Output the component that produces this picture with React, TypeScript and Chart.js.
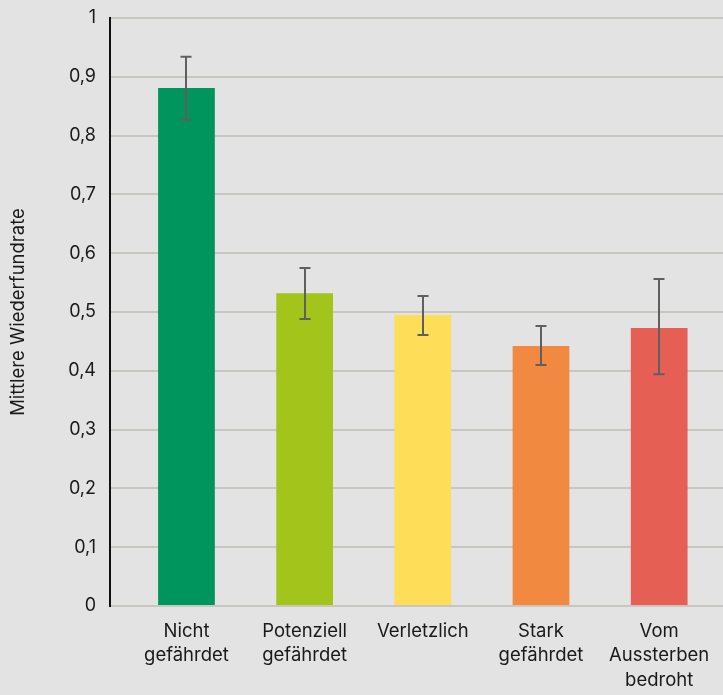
import React, { useEffect, useRef } from "react";
import { Chart, registerables } from "chart.js";

Chart.register(...registerables);

const categories: string[][] = [
  ["Nicht", "gefährdet"],
  ["Potenziell", "gefährdet"],
  ["Verletzlich"],
  ["Stark", "gefährdet"],
  ["Vom", "Aussterben", "bedroht"],
];
const means: number[] = [0.881, 0.532, 0.495, 0.442, 0.473];
const errLow: number[] = [0.827, 0.488, 0.461, 0.41, 0.394];
const errHigh: number[] = [0.934, 0.575, 0.527, 0.476, 0.556];
const barColors: string[] = ["#00955d", "#a2c41b", "#fedd59", "#f18a40", "#e55f55"];
const yTicks: number[] = [0, 0.1, 0.2, 0.3, 0.4, 0.5, 0.6, 0.7, 0.8, 0.9, 1];

const FONT = "Inter, 'Noto Sans', sans-serif";
const TEXT = "#1a1a1a";
const GRID = "#c9c5c1";
const BG = "#e3e3e3";

const errorBarPlugin = {
  id: "errorBars",
  afterDatasetsDraw(chart: any) {
    const meta = chart.getDatasetMeta(0);
    const y = chart.scales.y;
    const ctx = chart.ctx;
    ctx.save();
    ctx.strokeStyle = "#5f5f5f";
    ctx.lineWidth = 2;
    meta.data.forEach((bar: any, i: number) => {
      const x = Math.round(bar.x);
      const yl = y.getPixelForValue(errLow[i]);
      const yh = y.getPixelForValue(errHigh[i]);
      ctx.beginPath();
      ctx.moveTo(x, yl);
      ctx.lineTo(x, yh);
      ctx.moveTo(x - 5.5, yl);
      ctx.lineTo(x + 5.5, yl);
      ctx.moveTo(x - 5.5, yh);
      ctx.lineTo(x + 5.5, yh);
      ctx.stroke();
    });
    ctx.restore();
  },
};

export default function App() {
  const ref = useRef<HTMLCanvasElement | null>(null);

  useEffect(() => {
    document.body.style.background = BG;
    const canvas = ref.current;
    if (!canvas) return;
    const chart = new Chart(canvas, {
      type: "bar",
      data: {
        datasets: [
          {
            data: means.map((v, i) => ({ x: i, y: v })),
            backgroundColor: barColors,
            borderWidth: 0,
            barPercentage: 0.48,
            categoryPercentage: 1,
          },
        ],
      },
      options: {
        animation: false,
        responsive: true,
        maintainAspectRatio: false,
        layout: { padding: 0 },
        plugins: {
          legend: { display: false },
          tooltip: { enabled: false },
        },
        scales: {
          x: {
            type: "linear",
            offset: false,
            min: -0.647,
            max: 4.54,
            grid: { display: false, drawTicks: false, offset: false },
            border: { display: true, color: GRID, width: 2 },
            afterFit: (s: any) => {
              s.height = 89;
              s.paddingLeft = 0;
              s.paddingRight = 0;
            },
            ticks: {
              stepSize: 1,
              includeBounds: false,
              autoSkip: false,
              maxRotation: 0,
              padding: 13,
              color: TEXT,
              font: { family: FONT, size: 18.5, lineHeight: 1.32 },
              callback: (v: any) => {
                const n = Number(v);
                return Number.isInteger(n) && n >= 0 && n < categories.length ? categories[n] : "";
              },
            },
          },
          y: {
            min: 0,
            max: 1,
            afterFit: (s: any) => {
              s.width = 110;
              s.paddingTop = 18;
              s.paddingBottom = 0;
            },
            afterBuildTicks: (s: any) => {
              s.ticks = yTicks.map((v) => ({ value: v }));
            },
            grid: { color: GRID, lineWidth: 2, drawTicks: false },
            border: { display: true, color: "#111111", width: 2 },
            title: {
              display: true,
              text: "Mittlere Wiederfundrate",
              color: TEXT,
              font: { family: FONT, size: 18.5 },
              padding: { top: 7, bottom: 4 },
            },
            ticks: {
              padding: 14,
              color: TEXT,
              font: { family: FONT, size: 18 },
              callback: (v: any) => {
                const n = Number(v);
                if (n === 0) return "0";
                if (n === 1) return "1";
                return n.toFixed(1).replace(".", ",");
              },
            },
          },
        },
      },
      plugins: [errorBarPlugin],
    });
    return () => chart.destroy();
  }, []);

  return (
    <div
      style={{
        position: "absolute",
        left: 0,
        top: 0,
        width: 723,
        height: 695,
        background: BG,
      }}
    >
      <canvas ref={ref} />
    </div>
  );
}
